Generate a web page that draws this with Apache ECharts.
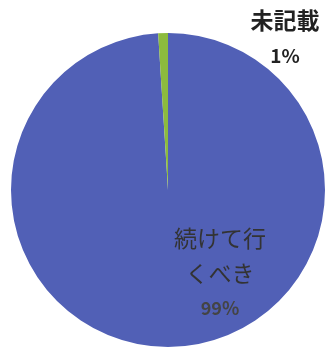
<!DOCTYPE html>
<html><head><meta charset="utf-8">
<script src="https://cdn.jsdelivr.net/npm/echarts@6/dist/echarts.min.js"></script>
<style>html,body{margin:0;padding:0;background:#fff}#c{width:332px;height:352px}</style>
</head><body><div id="c"></div>
<script>
const categories = ['続けて行\nくべき', '未記載'];
const values = [99, 1];
const colors = ['#5160b6', '#8cbb3e'];
const labelPos = [[220, 273], [285, 38]];

const chart = echarts.init(document.getElementById('c'), null, {renderer: 'canvas'});
chart.setOption({
  animation: false,
  series: [{
    type: 'pie',
    center: [168, 190],
    radius: [0, 157],
    startAngle: 90,
    clockwise: true,
    silent: true,
    data: categories.map((n, i) => ({
      name: n, value: values[i],
      itemStyle: {color: colors[i]},
      label: i === 0 ? {
        formatter: p => p.name.split('\n').map(s => '{t|' + s + '}').join('\n') + '\n{p|' + Math.round(p.percent) + '%}',
        rich: {
          t: {fontSize: 23, color: '#333', fontFamily: 'Noto Sans CJK JP', lineHeight: 35},
          p: {fontSize: 18, fontWeight: 'bold', color: '#444', fontFamily: 'Noto Sans CJK JP', lineHeight: 35}
        }
      } : {
        formatter: p => '{t|' + p.name + '}\n{p|' + Math.round(p.percent) + '%}',
        rich: {
          t: {fontSize: 23, fontWeight: 'bold', color: '#222', fontFamily: 'Noto Sans CJK JP', lineHeight: 36},
          p: {fontSize: 19, fontWeight: 'bold', color: '#222', fontFamily: 'Noto Sans CJK JP', lineHeight: 36}
        }
      }
    })),
    label: {show: true, position: 'outside', align: 'center'},
    labelLine: {show: false},
    labelLayout: function (params) {
      const p = labelPos[params.dataIndex];
      return {x: p[0], y: p[1], align: 'center', verticalAlign: 'middle'};
    }
  }]
});
</script></body></html>
